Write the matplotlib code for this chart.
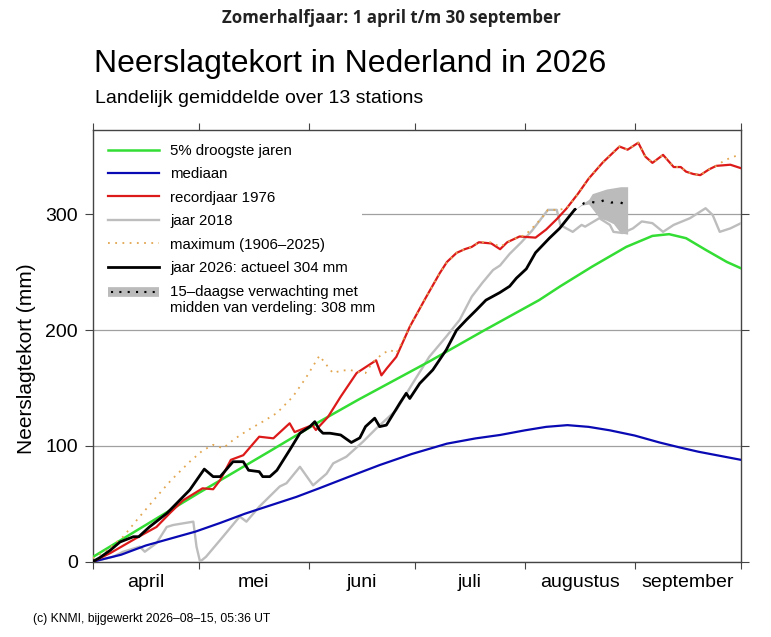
import matplotlib
matplotlib.use('Agg')
import matplotlib.pyplot as plt
from matplotlib.lines import Line2D
from matplotlib.legend_handler import HandlerBase
from matplotlib.patches import Rectangle

plt.rcParams['font.family'] = ['Liberation Sans', 'DejaVu Sans']

# ---------------- data (day 0 = 1 april) ----------------
green_days = [0, 10, 20, 30, 40, 50, 58.5, 64, 75, 95, 110, 126, 132, 141, 150.6, 158, 162.7, 167.5, 173, 179, 183]
green_mm = [4, 22.5, 41, 59.5, 77.5, 95.5, 111, 121, 140, 173, 199, 226, 238, 255, 272, 281.5, 283, 279.5, 269.5, 259, 253.5]

blue_days = [0, 8, 15, 22, 29, 36, 43, 50, 57.5, 64, 72, 81, 90, 100, 108, 115, 122, 128, 134, 140, 146, 153, 160, 166, 171, 177, 183]
blue_mm = [0, 6, 14, 20, 26, 33.5, 41.5, 48.5, 56, 63.5, 73, 83.5, 93, 102, 106.5, 109.5, 113.5, 116.5, 118, 116.5, 113.5, 109, 103, 98.5, 95, 91.5, 88]

red_days = [0, 5, 13, 18, 21.8, 25.5, 31, 34, 36, 39, 42.5, 47, 51, 55.6, 57, 62, 63, 66.4, 70, 74.5, 77, 80, 81.5, 83, 85.7,
            89.5, 94, 98, 100, 102.7, 105, 107, 109, 112.5, 115, 117, 120.5, 125, 128, 131, 133.7, 137, 140, 144, 148.7,
            151, 154, 156, 158, 161, 164, 166, 167.5, 169.5, 171.5, 174, 176, 180, 183]
red_mm = [0, 7.5, 21.6, 30, 42, 53, 63.4, 62.6, 70.6, 88, 92, 108, 106.6, 119.6, 112, 118, 113.8, 125, 142.6, 163, 168, 174, 161, 167, 177,
          203, 228, 249.5, 259, 266.8, 270, 272, 276, 275, 270, 276, 281, 280, 287, 296, 305, 318, 331, 345, 358.7,
          356, 362, 350, 344.6, 351.5, 341, 341, 337, 335, 334, 339, 342, 343, 340]

gray_days = [0, 5.8, 8.6, 13.3, 14.7, 18, 20.9, 22.7, 28.4, 29.3, 30.3, 32, 36, 41.5, 43.4, 47, 52.8, 54.7, 58.5, 62.2, 66, 67.9,
             71.6, 76.3, 80, 85.7, 90.3, 95, 99.8, 103.6, 107, 110, 113, 115, 117.7, 121, 124, 126.5, 128.5, 131, 132,
             133.7, 135.5, 138, 139, 143, 146, 147, 149.6, 152.5, 155, 158, 161, 164, 168.6, 173, 175, 177, 180, 183]
gray_mm = [0, 4.3, 8.6, 13, 8.6, 16, 30, 31.7, 34.6, 13, 0, 4.3, 18.8, 39, 34.6, 47.5, 65, 67.8, 82, 66, 76, 85,
           90.7, 103.7, 115, 131, 154, 177, 194.5, 209, 229, 241, 252, 256, 266, 276, 286, 296, 304, 304, 291,
           288, 285, 291, 289.5, 296.8, 291, 285, 284, 288, 294, 292.5, 285, 291, 296.8, 305.4, 299.6, 285, 288, 292.5]

max_days = [0, 4, 8.6, 13, 18, 22, 27.4, 31, 34, 36.8, 40, 44, 48, 52, 56.5, 60, 64, 66, 67.8, 70, 72.5, 75, 77, 79, 80, 82, 84,
            85.7, 89.5, 94, 98, 100, 102.7, 105, 107, 109, 112.5, 115, 117, 120.5, 122, 124, 126.5, 128.5, 131, 133.7, 137,
            140, 144, 148.7, 151, 154, 156, 158, 161, 164, 166, 167.5, 169.5, 171.5, 174, 176, 178, 180, 183]
max_mm = [3, 10, 21.6, 38, 56, 70, 86.4, 96, 101, 98, 106, 114, 121, 128.5, 142.6, 158, 178, 170, 163, 165, 165.7, 164, 163, 172, 175, 180, 183,
          180, 203, 228, 249.5, 259, 266.8, 270, 272, 276, 276, 272, 276, 281, 282, 288, 296, 304, 304, 305, 318,
          331, 345, 358.7, 356, 362, 350, 344.6, 351.5, 341, 341, 337, 335, 334, 339, 342, 346, 349, 352]

black_days = [0, 2, 5, 7.7, 11.5, 13, 16, 21, 27.4, 31.5, 34, 36, 39.6, 42.5, 44, 47, 48, 50, 52, 55.6, 58.5, 61.3, 62.7, 64, 65,
              67, 70, 73, 75.4, 77, 79.6, 81, 82.9, 86.7, 88.5, 89.5, 92.3, 96, 99.8, 102.7, 105.5, 108.3, 111, 114.9, 117.7,
              119.6, 122.4, 125, 128.9, 131.8, 136]
black_mm = [0, 3.5, 10, 17, 21.6, 21.6, 30, 42, 62, 80, 73.5, 73.5, 86.4, 86.4, 79, 77.8, 73.5, 73.5, 79, 96.5, 111, 116.7, 121, 114, 111,
            111, 109.5, 103, 107, 116.7, 124, 116.7, 118, 137, 145.5, 141, 154, 165.7, 183, 200, 209, 217.5, 226, 232.5, 238,
            245, 253, 267, 279.5, 288, 304]

fc_mid_days = [136, 137, 138.8, 140.7, 142.5, 144.5, 146.4, 148.5, 150.6]
fc_mid_mm = [304, 306, 310, 311, 309.8, 312.6, 310.3, 311, 308.3]

fc_band_days = [136, 138, 140, 141, 143, 145, 147, 148, 149, 151]
fc_band_lo = [304, 308, 309, 305, 297, 295, 292, 288, 284, 283]
fc_band_hi = [304, 309, 313, 318, 320, 322, 323, 323.5, 324, 324]

month_edges = [0, 30, 61, 91, 122, 153, 183]
month_mids = [15, 45.5, 76, 106.5, 137.5, 168]
month_labels = ['april', 'mei', 'juni', 'juli', 'augustus', 'september']
y_ticks = [0, 100, 200, 300]

labels = ['5% droogste jaren', 'mediaan', 'recordjaar 1976', 'jaar 2018',
          'maximum (1906–2025)', 'jaar 2026: actueel 304 mm',
          '15–daagse verwachting met\nmidden van verdeling: 308 mm']

# ---------------- figure ----------------
W, H = 771, 637
fig = plt.figure(figsize=(W / 100, H / 100), dpi=100)
ax = fig.add_axes([92.7 / W, 1 - 561.7 / H, (741 - 92.7) / W, (561.7 - 130) / H])

C_GREEN = '#33dd33'
C_BLUE = '#0a0ab4'
C_RED = '#dd1a1a'
C_GRAY = '#bdbdbd'
C_MAX = '#e2a650'

ax.set_axisbelow(True)
ax.grid(axis='y', color='#a0a0a0', lw=0.9)
ax.grid(axis='x', visible=False)

# white box behind legend hides gridlines
ax.add_patch(Rectangle((0, 0.555), 0.4154, 0.445, transform=ax.transAxes,
                       facecolor='white', edgecolor='none', zorder=1))

band = ax.fill_between(fc_band_days, fc_band_lo, fc_band_hi, color='#bbbbbb', lw=0, zorder=2)
l_gray, = ax.plot(gray_days, gray_mm, color=C_GRAY, lw=1.7, zorder=3)
l_green, = ax.plot(green_days, green_mm, color=C_GREEN, lw=1.8, zorder=4)
l_blue, = ax.plot(blue_days, blue_mm, color=C_BLUE, lw=1.6, zorder=4)
l_red, = ax.plot(red_days, red_mm, color=C_RED, lw=1.6, zorder=5)
l_max, = ax.plot(max_days, max_mm, color=C_MAX, lw=1.3, ls=(0, (1, 3)), zorder=6)
l_black, = ax.plot(black_days, black_mm, color='black', lw=2.0, zorder=7)
ax.plot(fc_mid_days, fc_mid_mm, color='black', lw=1.6, ls=(0, (1, 3.5)), zorder=7)

ax.set_xlim(0, 183)
ax.set_ylim(0, 373)

ax.set_xticks(month_edges)
ax.set_xticklabels([])
ax.set_xticks(month_mids, minor=True)
ax.set_xticklabels(month_labels, minor=True, fontsize=14)
ax.tick_params(axis='x', which='major', direction='out', length=5, top=True, color='#444444')
ax.tick_params(axis='x', which='minor', length=0, pad=9)
ax.set_yticks(y_ticks)
ax.set_yticklabels([str(v) for v in y_ticks], fontsize=14)
ax.tick_params(axis='y', direction='out', length=6, right=True, color='#444444', pad=4.5)

for s in ax.spines.values():
    s.set_color('#444444')
    s.set_linewidth(1.0)

ax.set_ylabel('Neerslagtekort (mm)', fontsize=15)
ax.yaxis.set_label_coords(-0.088, 0.47)


class ForecastHandler(HandlerBase):
    def __init__(self, yshift=0.0):
        super().__init__()
        self.yshift = yshift

    def create_artists(self, legend, orig_handle, xdescent, ydescent, width, height, fontsize, trans):
        y = (height - ydescent) / 2 + self.yshift * fontsize
        x0, x1 = -xdescent, -xdescent + width
        b = Line2D([x0, x1], [y, y], color='#bbbbbb', lw=7, solid_capstyle='butt', transform=trans)
        d = Line2D([x0 + 2, x1], [y, y], color='black', lw=1.5, ls=(0, (1, 3)), transform=trans)
        return [b, d]


handles = [l_green, l_blue, l_red, l_gray, l_max, l_black, band]
leg = ax.legend(handles, labels, loc='upper left', bbox_to_anchor=(0.0236, 0.968),
                frameon=False, fontsize=10.8, handlelength=3.4, handletextpad=0.75,
                labelspacing=0.63, borderaxespad=0, borderpad=0,
                handler_map={band: ForecastHandler(yshift=0.55)})
leg.set_zorder(10)

fig.text(391 / W, 1 - 18 / H, 'Zomerhalfjaar: 1 april t/m 30 september', ha='center', va='center',
         fontsize=12.2, fontweight='bold', family=['Open Sans', 'DejaVu Sans'], color='#222222')
fig.text(94 / W, 1 - 72 / H, 'Neerslagtekort in Nederland in 2026', ha='left', va='baseline', fontsize=23)
fig.text(95 / W, 1 - 103 / H, 'Landelijk gemiddelde over 13 stations', ha='left', va='baseline', fontsize=14)
fig.text(33 / W, 1 - 619 / H, '(c) KNMI, bijgewerkt 2026–08–15, 05:36 UT', ha='left', va='center', fontsize=8.7)

fig.savefig('out.png', dpi=100)
